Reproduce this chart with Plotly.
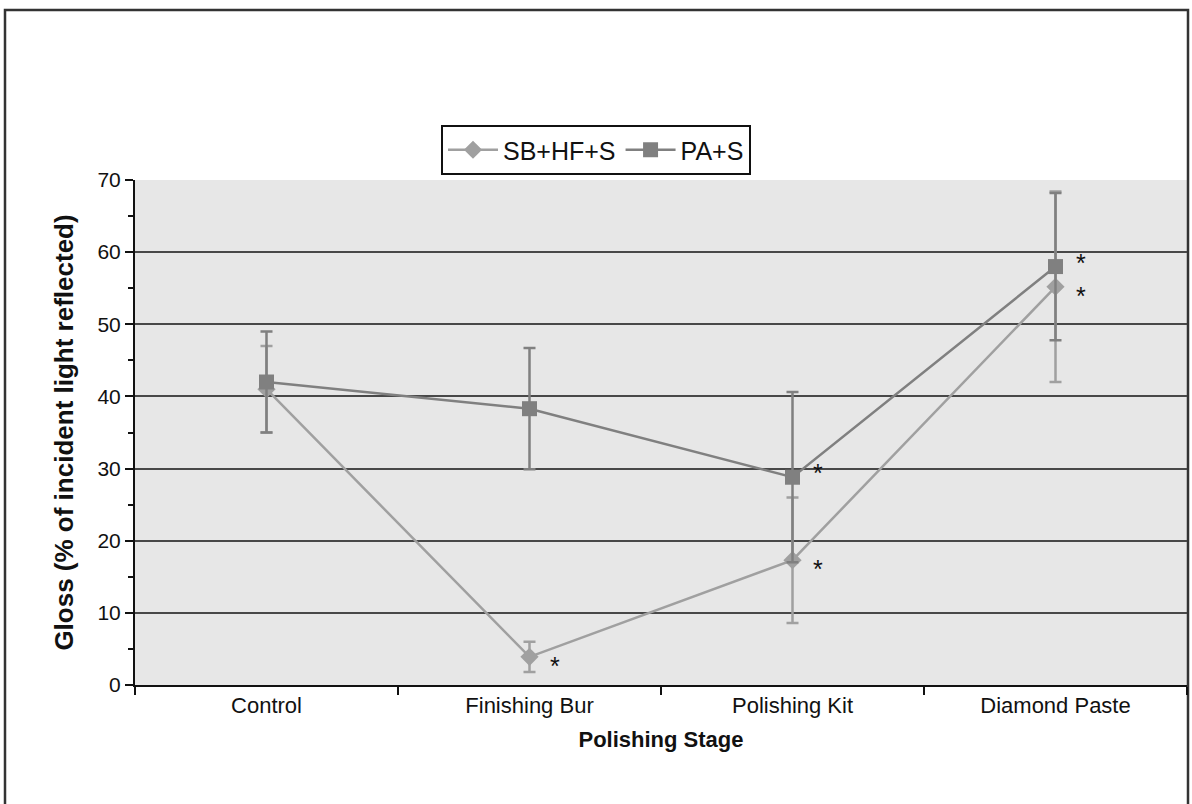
import plotly.graph_objects as go

categories = ["Control", "Finishing Bur", "Polishing Kit", "Diamond Paste"]
sb_hf_s = [41.0, 3.9, 17.3, 55.2]
sb_hf_s_err = [6.0, 2.1, 8.7, 13.2]
pa_s = [42.0, 38.3, 28.8, 58.0]
pa_s_err = [7.0, 8.4, 11.8, 10.2]
sb_sig = [False, True, True, True]
pa_sig = [False, False, True, True]

FONT = "Arial, Liberation Sans, sans-serif"
SB_COL = "#a0a0a0"
PA_COL = "#808080"

L, R, T, B = 135, 1187, 180, 685
PW, PH = R - L, B - T

fig = go.Figure()
fig.add_trace(go.Scatter(
    x=categories, y=sb_hf_s, name="SB+HF+S", mode="lines+markers",
    line=dict(color=SB_COL, width=2.5),
    marker=dict(symbol="diamond", size=14, color=SB_COL),
    error_y=dict(type="data", array=sb_hf_s_err, color=SB_COL, thickness=2.5, width=6),
))
fig.add_trace(go.Scatter(
    x=categories, y=pa_s, name="PA+S", mode="lines+markers",
    line=dict(color=PA_COL, width=2.5),
    marker=dict(symbol="square", size=15, color=PA_COL),
    error_y=dict(type="data", array=pa_s_err, color=PA_COL, thickness=2.5, width=6),
))

for cat, v, s in zip(categories, sb_hf_s, sb_sig):
    if s:
        fig.add_annotation(x=cat, y=v, text="*", showarrow=False, xshift=25, yshift=-9,
                           font=dict(family=FONT, size=25, color="#111"))
for cat, v, s in zip(categories, pa_s, pa_sig):
    if s:
        fig.add_annotation(x=cat, y=v, text="*", showarrow=False, xshift=25, yshift=4,
                           font=dict(family=FONT, size=25, color="#111"))

# outer frame
fig.add_shape(type="rect", xref="paper", yref="paper",
              x0=(5 - L) / PW, x1=(1188 - L) / PW,
              y0=(B - 830) / PH, y1=(B - 10) / PH,
              line=dict(color="#333", width=2.5), fillcolor="rgba(0,0,0,0)", layer="below")

fig.update_layout(
    width=1192, height=804,
    margin=dict(l=L, r=1192 - R, t=T, b=804 - B),
    paper_bgcolor="white", plot_bgcolor="#e7e7e7",
    font=dict(family=FONT, size=21, color="#111"),
    showlegend=True,
    legend=dict(orientation="h", x=(596 - L) / PW, xanchor="center",
                y=(B - 125) / PH, yanchor="top",
                bordercolor="#111", borderwidth=2, bgcolor="white",
                font=dict(family=FONT, size=25, color="#111"), itemwidth=50,
                tracegroupgap=0),
    xaxis=dict(
        title=dict(text="<b>Polishing Stage</b>", font=dict(family=FONT, size=22), standoff=14),
        type="category", showgrid=False, showline=True, linecolor="#111", linewidth=2,
        ticks="outside", tickson="boundaries", ticklen=8, tickcolor="#111", tickwidth=2,
        range=[-0.5, 3.5], tickfont=dict(family=FONT, size=22),
    ),
    yaxis=dict(
        title=dict(text="<b>Gloss (% of incident light reflected)</b>", font=dict(family=FONT, size=26), standoff=16),
        range=[0, 70], dtick=10, showgrid=True, gridcolor="#484848", gridwidth=2,
        showline=True, linecolor="#111", linewidth=2, zeroline=False,
        ticks="outside", ticklen=8, tickcolor="#111", tickwidth=2,
        minor=dict(dtick=5, ticks="outside", ticklen=5, tickcolor="#111", tickwidth=1.5, showgrid=False),
        tickfont=dict(family=FONT, size=21),
    ),
)

fig.write_html("out.html", config={"displayModeBar": False},
               post_script="document.body.style.margin='0';document.body.style.overflow='hidden';")
